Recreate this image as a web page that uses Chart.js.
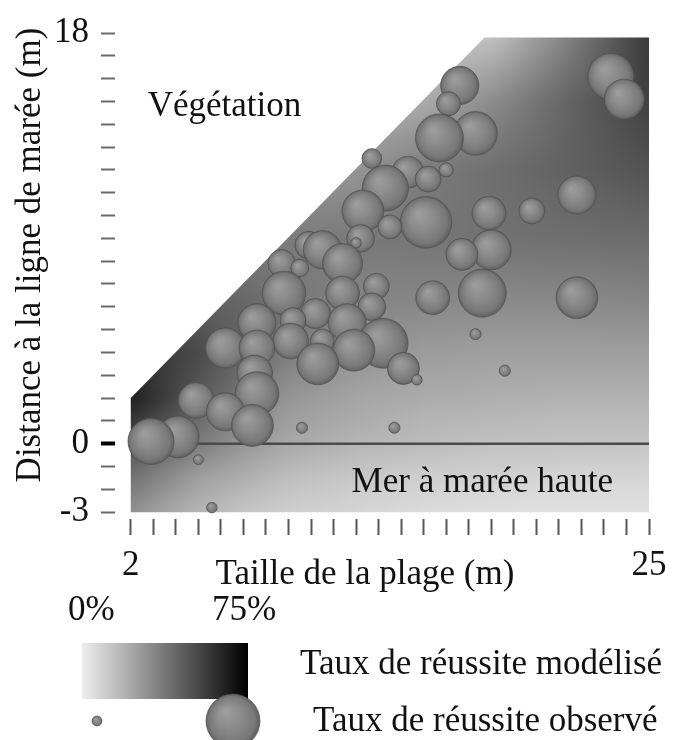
<!DOCTYPE html>
<html>
<head>
<meta charset="utf-8">
<script src="https://cdn.jsdelivr.net/npm/chart.js@4.4.1/dist/chart.umd.min.js"></script>
<style>
  html, body { margin: 0; padding: 0; background: #fff; }
  canvas { display: block; }
</style>
</head>
<body>
<canvas id="c" width="677" height="740"></canvas>
<script>
// Observed sites: beach size (m), distance to the high-tide line (m), observed success (%)
const beachSize = [23.3, 23.9, 16.6, 16.1, 15.7, 17.3, 12.7, 14.3, 15.2, 13.3,
                   16.0, 12.3, 15.1, 13.5, 12.2, 17.9, 19.8, 21.8, 16.7, 18.0,
                   17.6, 15.4, 21.8, 17.3, 18.6, 13.7, 9.6, 14.7, 14.1, 13.2,
                   11.9, 11.6, 12.7, 12.9, 11.4, 11.4, 10.5, 9.9, 9.5, 8.7,
                   8.8, 8.1, 10.2, 9.2, 9.1, 10.3, 10.5, 6.2, 7.6, 7.6,
                   7.5, 7.6, 7.4, 6.2, 4.9, 4.1, 2.9, 5.0, 5.6, 12.0];
const tideDistance = [16.1, 15.1, 15.7, 14.9, 13.4, 13.6, 12.5, 11.9, 11.6, 11.2,
                      12.0, 10.2, 9.7, 9.5, 9.0, 10.1, 10.2, 10.9, 8.3, 8.5,
                      6.6, 6.4, 6.4, 4.8, 3.2, 0.7, 0.7, 2.8, 3.3, 4.4,
                      4.1, 5.3, 6.0, 6.9, 6.6, 7.9, 8.5, 8.7, 7.7, 7.9,
                      6.6, 6.7, 5.7, 5.4, 4.5, 3.5, 4.5, 4.2, 4.2, 5.3,
                      3.1, 2.2, 0.8, 1.4, 1.9, 0.3, 0.1, -0.7, -2.8, 8.8];
const observedRate = [59, 49, 46, 23, 62, 55, 16, 36, 26, 59,
                      7, 52, 68, 23, 29, 39, 26, 46, 36, 49,
                      62, 39, 52, 2, 2, 2, 2, 1, 36, 65,
                      52, 46, 29, 26, 39, 49, 46, 29, 13, 29,
                      55, 2, 33, 26, 42, 52, 23, 49, 42, 46,
                      42, 55, 52, 46, 42, 52, 59, 0, 1, 1];

// Modelled success (%) sampled on a grid; rows follow gridY, columns follow gridX
const gridX = [2, 3.5, 5, 7, 9, 12, 15, 18, 21, 25];
const gridY = [-3, -1.5, 0, 1, 2, 4, 6, 9, 12, 15, 18];
const rateRowM3   = [30, 23, 18, 13, 10, 8, 6, 5, 4, 4];
const rateRowM1_5 = [39, 32, 25, 20, 15, 12, 10, 9, 8, 8];
const rateRow0    = [50, 43, 36, 28, 22, 18, 16, 14, 14, 13];
const rateRow1    = [58, 50, 41, 32, 25, 21, 18, 17, 16, 16];
const rateRow2    = [66, 56, 47, 37, 28, 23, 21, 20, 19, 19];
const rateRow4    = [56, 56, 52, 43, 36, 29, 26, 25, 25, 25];
const rateRow6    = [46, 46, 46, 43, 38, 33, 32, 31, 31, 32];
const rateRow9    = [36, 36, 36, 36, 36, 37, 38, 39, 40, 41];
const rateRow12   = [28, 28, 28, 28, 28, 28, 36, 40, 44, 49];
const rateRow15   = [20, 20, 20, 20, 20, 20, 21, 31, 42, 55];
const rateRow18   = [12, 12, 12, 12, 12, 12, 12, 13, 31, 57];
const modelRate = [rateRowM3, rateRowM1_5, rateRow0, rateRow1, rateRow2, rateRow4,
                   rateRow6, rateRow9, rateRow12, rateRow15, rateRow18];

// Outline of the modelled zone (beach size, distance)
const zoneX = [2, 2, 17.7, 25, 25];
const zoneY = [-3, 2, 17.8, 17.8, -3];

// High-tide line
const tideLineX = [2, 25];
const tideLineY = [0, 0];

// Axis ticks and the ones that carry a label
const xTicks = [2, 3, 4, 5, 6, 7, 8, 9, 10, 11, 12, 13, 14, 15, 16, 17, 18, 19, 20, 21, 22, 23, 24, 25];
const xLabelled = [2, 25];
const yTicks = [-3, -2, -1, 0, 1, 2, 3, 4, 5, 6, 7, 8, 9, 10, 11, 12, 13, 14, 15, 16, 17, 18];
const yLabelled = [-3, 0, 18];

// Colour-scale ends and bubble-size key (%)
const scaleRates = [0, 75];
const legendRates = [0, 75];

const FONT = '"Liberation Serif", "Times New Roman", serif';
const FONT_SIZE = 35;
const RATE_MAX = 75;

const radiusFor = rate => 5 + rate * 23 / RATE_MAX;
const grayFor = rate => Math.max(0, Math.min(255, Math.round(238 * (1 - rate / RATE_MAX))));

function rateAt(x, y) {
  const cx = Math.max(gridX[0], Math.min(gridX[gridX.length - 1], x));
  const cy = Math.max(gridY[0], Math.min(gridY[gridY.length - 1], y));
  let i = 0; while (i < gridX.length - 2 && gridX[i + 1] <= cx) i++;
  let j = 0; while (j < gridY.length - 2 && gridY[j + 1] <= cy) j++;
  const tx = (cx - gridX[i]) / (gridX[i + 1] - gridX[i]);
  const ty = (cy - gridY[j]) / (gridY[j + 1] - gridY[j]);
  const a = modelRate[j][i], b = modelRate[j][i + 1];
  const c = modelRate[j + 1][i], d = modelRate[j + 1][i + 1];
  return (a * (1 - tx) + b * tx) * (1 - ty) + (c * (1 - tx) + d * tx) * ty;
}

// Shaded sphere fill for a bubble centred at (x, y)
function sphere(ctx2d, x, y, r) {
  const g = ctx2d.createRadialGradient(x - r * 0.3, y - r * 0.35, r * 0.05, x, y, r);
  g.addColorStop(0, '#9d9d9d');
  g.addColorStop(0.45, '#8b8b8b');
  g.addColorStop(0.85, '#777777');
  g.addColorStop(1, '#5f5f5f');
  return g;
}

// Lower bubbles are painted over higher ones
const drawOrder = beachSize.map((_, i) => i).sort((a, b) => tideDistance[b] - tideDistance[a]);
const bubbles = drawOrder.map(i => ({ x: beachSize[i], y: tideDistance[i], r: radiusFor(observedRate[i]) }));

// Modelled surface painted inside the zone outline
const surfacePlugin = {
  id: 'surface',
  beforeDatasetsDraw(chart) {
    const { ctx, scales: { x: xs, y: ys } } = chart;
    const pts = zoneX.map((v, i) => [xs.getPixelForValue(v), ys.getPixelForValue(zoneY[i])]);
    const pad = 12;
    const minX = Math.floor(Math.min(...pts.map(p => p[0]))) - pad;
    const maxX = Math.ceil(Math.max(...pts.map(p => p[0]))) + pad;
    const minY = Math.floor(Math.min(...pts.map(p => p[1]))) - pad;
    const maxY = Math.ceil(Math.max(...pts.map(p => p[1]))) + pad;
    const w = maxX - minX, h = maxY - minY;
    const off = document.createElement('canvas');
    off.width = w; off.height = h;
    const octx = off.getContext('2d');
    const img = octx.createImageData(w, h);
    for (let py = 0; py < h; py++) {
      const dy = ys.getValueForPixel(minY + py + 0.5);
      for (let px = 0; px < w; px++) {
        const dx = xs.getValueForPixel(minX + px + 0.5);
        const g = grayFor(rateAt(dx, dy));
        const k = (py * w + px) * 4;
        img.data[k] = g; img.data[k + 1] = g; img.data[k + 2] = g; img.data[k + 3] = 255;
      }
    }
    octx.putImageData(img, 0, 0);
    ctx.save();
    ctx.beginPath();
    pts.forEach((p, i) => (i ? ctx.lineTo(p[0], p[1]) : ctx.moveTo(p[0], p[1])));
    ctx.closePath();
    ctx.clip();
    ctx.filter = 'blur(4px)';
    ctx.drawImage(off, minX, minY);
    ctx.filter = 'none';
    ctx.restore();
  }
};

// Zone names, axis titles and the key under the chart
const textPlugin = {
  id: 'texts',
  afterDraw(chart) {
    const { ctx, scales: { x: xs, y: ys } } = chart;
    ctx.save();
    ctx.fillStyle = '#111';
    ctx.font = `${FONT_SIZE}px ${FONT}`;
    ctx.textBaseline = 'alphabetic';

    ctx.textAlign = 'left';
    ctx.fillText('Végétation', xs.getPixelForValue(2.75), ys.getPixelForValue(14.37));
    ctx.fillText('Mer à marée haute', xs.getPixelForValue(11.8), ys.getPixelForValue(-2.12));

    ctx.textAlign = 'center';
    ctx.fillText('Taille de la plage (m)', 365, 584);

    ctx.save();
    ctx.translate(31, 255);
    ctx.rotate(-Math.PI / 2);
    ctx.textBaseline = 'middle';
    ctx.fillText('Distance à la ligne de marée (m)', 0, 0);
    ctx.restore();

    // Colour key
    ctx.textAlign = 'left';
    ctx.fillText(scaleRates[0] + '%', 68, 620);
    ctx.fillText(scaleRates[1] + '%', 212, 620);
    const bar = { l: 82, r: 248, t: 643, b: 699 };
    const lg = ctx.createLinearGradient(bar.l, 0, bar.r, 0);
    const g0 = grayFor(scaleRates[0]), g1 = grayFor(scaleRates[1]);
    lg.addColorStop(0, `rgb(${g0},${g0},${g0})`);
    lg.addColorStop(1, `rgb(${g1},${g1},${g1})`);
    ctx.fillStyle = lg;
    ctx.fillRect(bar.l, bar.t, bar.r - bar.l, bar.b - bar.t);
    ctx.fillStyle = '#111';
    ctx.fillText('Taux de réussite modélisé', 300, 674);

    // Bubble-size key
    const keyX = [97, 233];
    const keyY = 721;
    legendRates.forEach((rate, i) => {
      const r = radiusFor(rate) - (i ? 1 : 0);
      ctx.beginPath();
      ctx.arc(keyX[i], keyY, r, 0, Math.PI * 2);
      ctx.fillStyle = sphere(ctx, keyX[i], keyY, r);
      ctx.fill();
      ctx.lineWidth = 1;
      ctx.strokeStyle = 'rgba(80,80,80,0.65)';
      ctx.stroke();
    });
    ctx.fillStyle = '#111';
    ctx.fillText('Taux de réussite observé', 313, 731);
    ctx.restore();
  }
};

new Chart(document.getElementById('c'), {
  type: 'bubble',
  data: {
    datasets: [
      {
        type: 'bubble',
        data: bubbles,
        clip: false,
        backgroundColor: c => {
          if (!c.raw) return '#888';
          const ch = c.chart;
          const px = ch.scales.x ? ch.scales.x.getPixelForValue(c.raw.x) : NaN;
          const py = ch.scales.y ? ch.scales.y.getPixelForValue(c.raw.y) : NaN;
          if (!Number.isFinite(px) || !Number.isFinite(py)) return '#888';
          return sphere(ch.ctx, px, py, c.raw.r);
        },
        borderColor: 'rgba(80,80,80,0.65)',
        borderWidth: 1,
        hoverRadius: 0
      },
      {
        type: 'line',
        data: tideLineX.map((x, i) => ({ x, y: tideLineY[i] })),
        borderColor: '#4a4a4a',
        borderWidth: 2.5,
        pointRadius: 0,
        clip: false
      }
    ]
  },
  options: {
    responsive: false,
    animation: false,
    events: [],
    layout: { padding: { left: 0, top: 32, right: 28, bottom: 0 } },
    plugins: { legend: { display: false }, tooltip: { enabled: false } },
    scales: {
      x: {
        type: 'linear',
        min: 1.3,
        max: 25,
        afterBuildTicks: s => { s.ticks = xTicks.map(v => ({ value: v })); },
        afterFit: s => { s.height = 221; },
        border: { display: false },
        grid: { drawOnChartArea: false, drawTicks: true, tickLength: 16, tickColor: '#555', tickWidth: 2 },
        ticks: {
          autoSkip: false, maxRotation: 0, minRotation: 0, padding: 10, color: '#111',
          font: { family: FONT, size: FONT_SIZE },
          callback: v => (xLabelled.includes(v) ? String(v) : '')
        }
      },
      y: {
        type: 'linear',
        min: -3.3,
        max: 18,
        afterBuildTicks: s => { s.ticks = yTicks.map(v => ({ value: v })); },
        afterFit: s => { s.width = 115; },
        border: { display: false },
        grid: {
          drawOnChartArea: false, drawTicks: true, tickLength: 14,
          tickColor: c => (c.tick && c.tick.value === 0 ? '#000' : '#6a6a6a'),
          tickWidth: c => (c.tick && c.tick.value === 0 ? 4 : 2)
        },
        ticks: {
          autoSkip: false, padding: 12, color: '#111',
          font: { family: FONT, size: FONT_SIZE },
          callback: v => (yLabelled.includes(v) ? String(v) : '')
        }
      }
    }
  },
  plugins: [surfacePlugin, textPlugin]
});
</script>
</body>
</html>
